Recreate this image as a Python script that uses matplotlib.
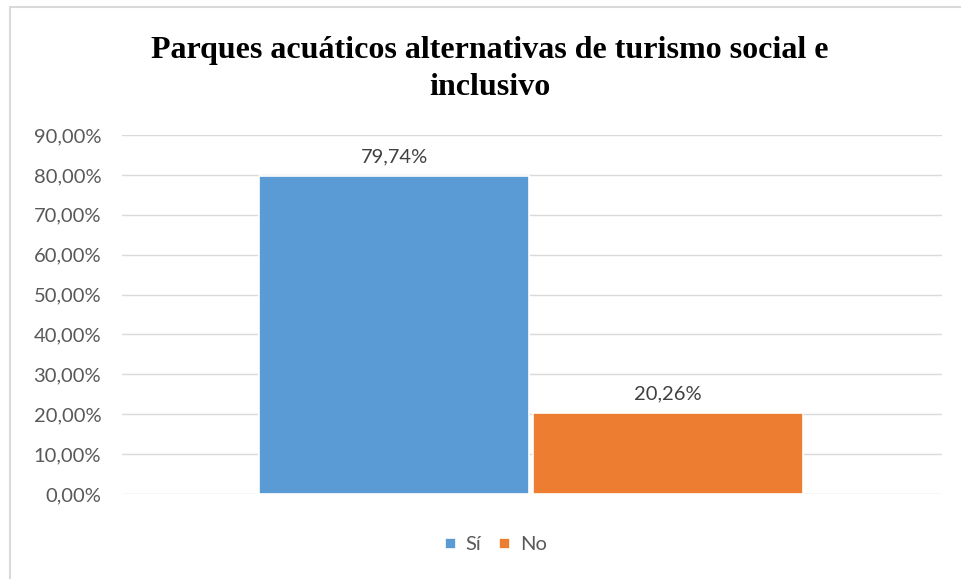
import matplotlib
matplotlib.use("Agg")
import matplotlib.pyplot as plt
from matplotlib.patches import Rectangle

categories = ["Sí", "No"]
values = [0.7974, 0.2026]
colors = ["#5B9BD5", "#ED7D31"]
yticks = [0.0, 0.1, 0.2, 0.3, 0.4, 0.5, 0.6, 0.7, 0.8, 0.9]
title = "Parques acuáticos alternativas de turismo social e\ninclusivo"

def pct(v):
    return f"{v*100:.2f}%".replace(".", ",")

fig = plt.figure(figsize=(9.62, 5.79), dpi=100)
fig.patch.set_facecolor("white")
fig.patches.append(Rectangle((10/962, -0.1), 1.2, 1 - 7/579 + 0.1, transform=fig.transFigure,
                             fill=False, edgecolor="#D9D9D9", linewidth=1.5))

ax = fig.add_axes([122/962, 1 - 494/579, 820/962, (494 - 135)/579])
ax.set_ylim(0, 0.9)
ax.set_xlim(-0.5, 0.5)

w = 0.329
offsets = [-0.168, 0.166]
for cat, v, c, off in zip(categories, values, colors, offsets):
    ax.bar(off, v, width=w, color=c, edgecolor="white", linewidth=1.2, label=cat, zorder=3)
    ax.text(off, v + 0.027, pct(v), ha="center", va="bottom", fontsize=14.5,
            family="Lato", color="#404040")

ax.set_yticks(yticks)
ax.set_yticklabels([pct(t) for t in yticks], fontsize=14.5, family="Lato", color="#595959")
ax.tick_params(axis="y", length=0, pad=15)
ax.set_xticks([])
ax.yaxis.grid(True, color="#D9D9D9", linewidth=1)
ax.set_axisbelow(True)
for s in ax.spines.values():
    s.set_visible(False)

fig.text(490/962, 1 - 69/579, title, ha="center", va="center", fontsize=23,
         family="Liberation Serif", fontweight="bold", color="black", linespacing=1.38)

leg = fig.legend(loc="center", bbox_to_anchor=(496/962, 1 - 545/579), ncol=2, frameon=False,
                 handlelength=0.5, handleheight=0.5, handletextpad=0.5, columnspacing=0.9,
                 prop={"family": "Lato", "size": 14.5})
for t in leg.get_texts():
    t.set_color("#595959")

fig.savefig("out.png", dpi=100)
